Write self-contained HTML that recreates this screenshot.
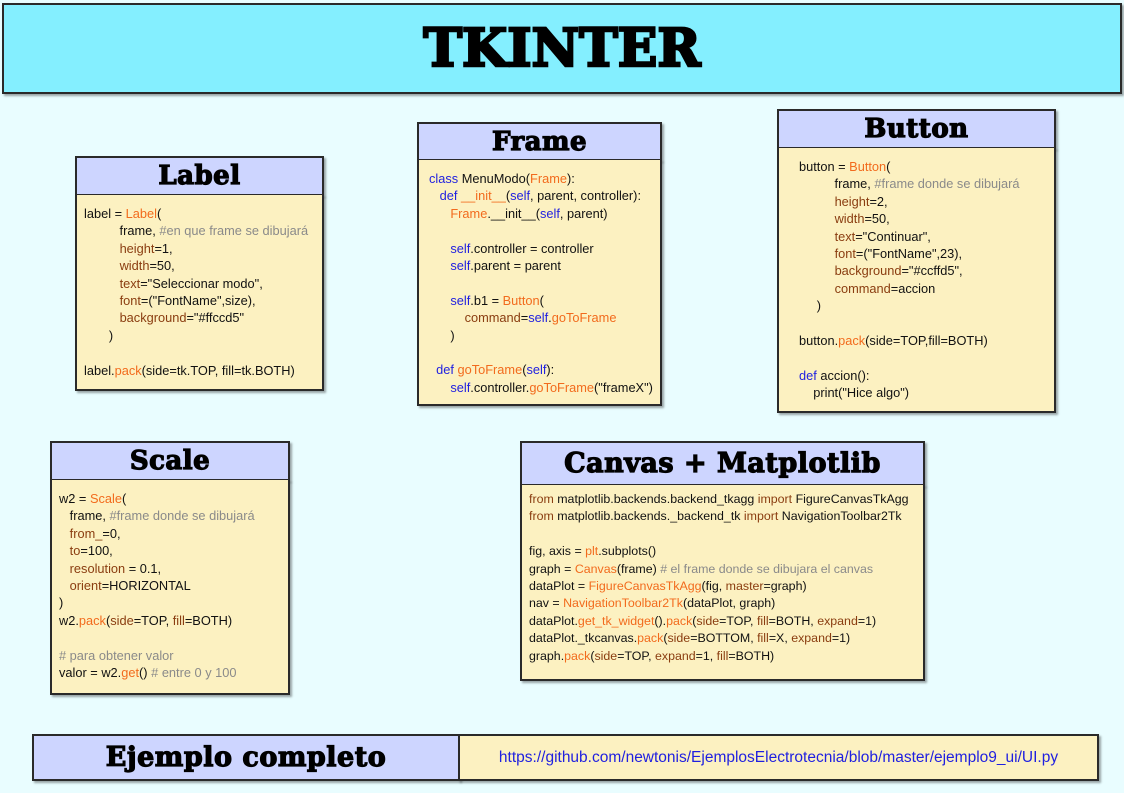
<!DOCTYPE html>
<html><head><meta charset="utf-8"><style>
body{margin:0;width:1124px;height:793px;background:#e9fdff;position:relative;overflow:hidden;font-family:"Liberation Sans",sans-serif}
.b{position:absolute;box-sizing:border-box;border:2px solid #2a2a2a;box-shadow:2px 2px 2px rgba(0,0,0,.35)}
.h{background:#cdd5ff;display:flex;align-items:center;justify-content:center;font-family:"DejaVu Serif",serif;font-weight:bold;color:#000;-webkit-text-stroke:1.2px #000;letter-spacing:.5px}
.c{background:#fcf1c1;font-size:12.8px;line-height:17.4px;color:#111;white-space:pre;padding:10px 0 0 7px;border-top:none}
.k{color:#1f1fe0}.o{color:#f26b1d}.r{color:#8a3d10}.g{color:#8a8a8a}
</style></head><body>
<div class="b" style="left:2px;top:3px;width:1120px;height:91px;background:#84efff;display:flex;align-items:center;justify-content:center;font-family:'DejaVu Serif',serif;font-weight:bold;font-size:52px;-webkit-text-stroke:2.5px #000">TKINTER</div>

<div class="b h" style="left:75px;top:156px;width:249px;height:40px;font-size:26px">Label</div>
<div class="b c" style="left:75px;top:195px;width:249px;height:196px">label = <span class="o">Label</span>(
          frame, <span class="g">#en que frame se dibujará</span>
          <span class="r">height</span>=1,
          <span class="r">width</span>=50,
          <span class="r">text</span>="Seleccionar modo",
          <span class="r">font</span>=("FontName",size),
          <span class="r">background</span>="#ffccd5"
       )

label.<span class="o">pack</span>(side=tk.TOP, fill=tk.BOTH)</div>

<div class="b h" style="left:417px;top:122px;width:245px;height:39px;font-size:26px">Frame</div>
<div class="b c" style="left:417px;top:160px;width:245px;height:246px;padding-left:10px"><span class="k">class</span> MenuModo(<span class="o">Frame</span>):
   <span class="k">def</span> <span class="o">__init__</span>(<span class="k">self</span>, parent, controller):
      <span class="o">Frame</span>.__init__(<span class="k">self</span>, parent)

      <span class="k">self</span>.controller = controller
      <span class="k">self</span>.parent = parent

      <span class="k">self</span>.b1 = <span class="o">Button</span>(
          <span class="r">command</span>=<span class="k">self</span>.<span class="o">goToFrame</span>
      )

  <span class="k">def</span> <span class="o">goToFrame</span>(<span class="k">self</span>):
      <span class="k">self</span>.controller.<span class="o">goToFrame</span>("frameX")</div>

<div class="b h" style="left:777px;top:109px;width:279px;height:40px;font-size:26px">Button</div>
<div class="b c" style="left:777px;top:148px;width:279px;height:265px;padding-left:20px">button = <span class="o">Button</span>(
          frame, <span class="g">#frame donde se dibujará</span>
          <span class="r">height</span>=2,
          <span class="r">width</span>=50,
          <span class="r">text</span>="Continuar",
          <span class="r">font</span>=("FontName",23),
          <span class="r">background</span>="#ccffd5",
          <span class="r">command</span>=accion
     )

button.<span class="o">pack</span>(side=TOP,fill=BOTH)

<span class="k">def</span> accion():
    print("Hice algo")</div>

<div class="b h" style="left:50px;top:441px;width:240px;height:40px;font-size:26px">Scale</div>
<div class="b c" style="left:50px;top:480px;width:240px;height:215px">w2 = <span class="o">Scale</span>(
   frame, <span class="g">#frame donde se dibujará</span>
   <span class="r">from_</span>=0,
   <span class="r">to</span>=100,
   <span class="r">resolution</span> = 0.1,
   <span class="r">orient</span>=HORIZONTAL
)
w2.<span class="o">pack</span>(<span class="r">side</span>=TOP, <span class="r">fill</span>=BOTH)

<span class="g"># para obtener valor</span>
valor = w2.<span class="o">get</span>() <span class="g"># entre 0 y 100</span></div>

<div class="b h" style="left:520px;top:441px;width:405px;height:45px;font-size:27px">Canvas + Matplotlib</div>
<div class="b c" style="left:520px;top:485px;width:405px;height:196px;padding-top:6px;font-size:12.4px"><span class="r">from</span> matplotlib.backends.backend_tkagg <span class="r">import</span> FigureCanvasTkAgg
<span class="r">from</span> matplotlib.backends._backend_tk <span class="r">import</span> NavigationToolbar2Tk

fig, axis = <span class="o">plt</span>.subplots()
graph = <span class="o">Canvas</span>(frame) <span class="g"># el frame donde se dibujara el canvas</span>
dataPlot = <span class="o">FigureCanvasTkAgg</span>(fig, <span class="r">master</span>=graph)
nav = <span class="o">NavigationToolbar2Tk</span>(dataPlot, graph)
dataPlot.<span class="o">get_tk_widget</span>().<span class="o">pack</span>(<span class="r">side</span>=TOP, <span class="r">fill</span>=BOTH, <span class="r">expand</span>=1)
dataPlot._tkcanvas.<span class="o">pack</span>(<span class="r">side</span>=BOTTOM, <span class="r">fill</span>=X, <span class="r">expand</span>=1)
graph.<span class="o">pack</span>(<span class="r">side</span>=TOP, <span class="r">expand</span>=1, <span class="r">fill</span>=BOTH)</div>

<div class="b h" style="left:32px;top:734px;width:428px;height:47px;font-size:27px">Ejemplo completo</div>
<div class="b" style="left:458px;top:734px;width:641px;height:47px;background:#fcf1c1;display:flex;align-items:center;justify-content:center;color:#1f1fe0;font-size:15.5px">https://github.com/newtonis/EjemplosElectrotecnia/blob/master/ejemplo9_ui/UI.py</div>
</body></html>
